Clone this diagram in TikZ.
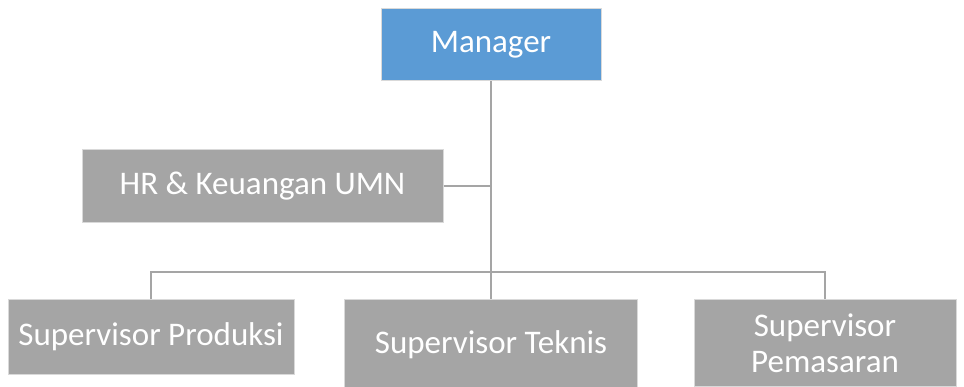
\documentclass[tikz,border=0pt]{standalone}
\usepackage{fontspec}
\setmainfont{Carlito}
\definecolor{mblue}{HTML}{5B9BD5}
\definecolor{mgray}{HTML}{A5A5A5}
\definecolor{mborder}{HTML}{D9D9D9}
\begin{document}
\begin{tikzpicture}[x=1pt,y=-1pt,
  box/.style={rectangle,fill=mgray,draw=mborder,line width=1pt,text=white,
    font=\fontsize{33}{36}\selectfont,align=center,inner sep=0pt},
  link/.style={draw=mgray,line width=2pt}]
\useasboundingbox (0,0) rectangle (964,387);
\node[box,fill=mblue,minimum width=220pt,minimum height=72pt] (mgr) at (491,45) {Manager};
\node[box,minimum width=361pt,minimum height=73pt] (hr) at (262.5,186.5) {HR \& Keuangan UMN};
\node[box,minimum width=286pt,minimum height=74pt] (prod) at (151,337) {Supervisor Produksi};
\node[box,minimum width=293pt,minimum height=90pt] (tek) at (491,345) {Supervisor Teknis};
\node[box,minimum width=262pt,minimum height=86pt] (pem) at (825,343) {Supervisor\\Pemasaran};
\coordinate (j) at (491,272);
\draw[link] (mgr.south) -- (j);
\draw[link] (hr.east) -- (hr.east -| mgr.south);
\draw[link] (prod.north) |- (j) -| (pem.north);
\draw[link] (j) -- (tek.north);
\end{tikzpicture}
\end{document}
